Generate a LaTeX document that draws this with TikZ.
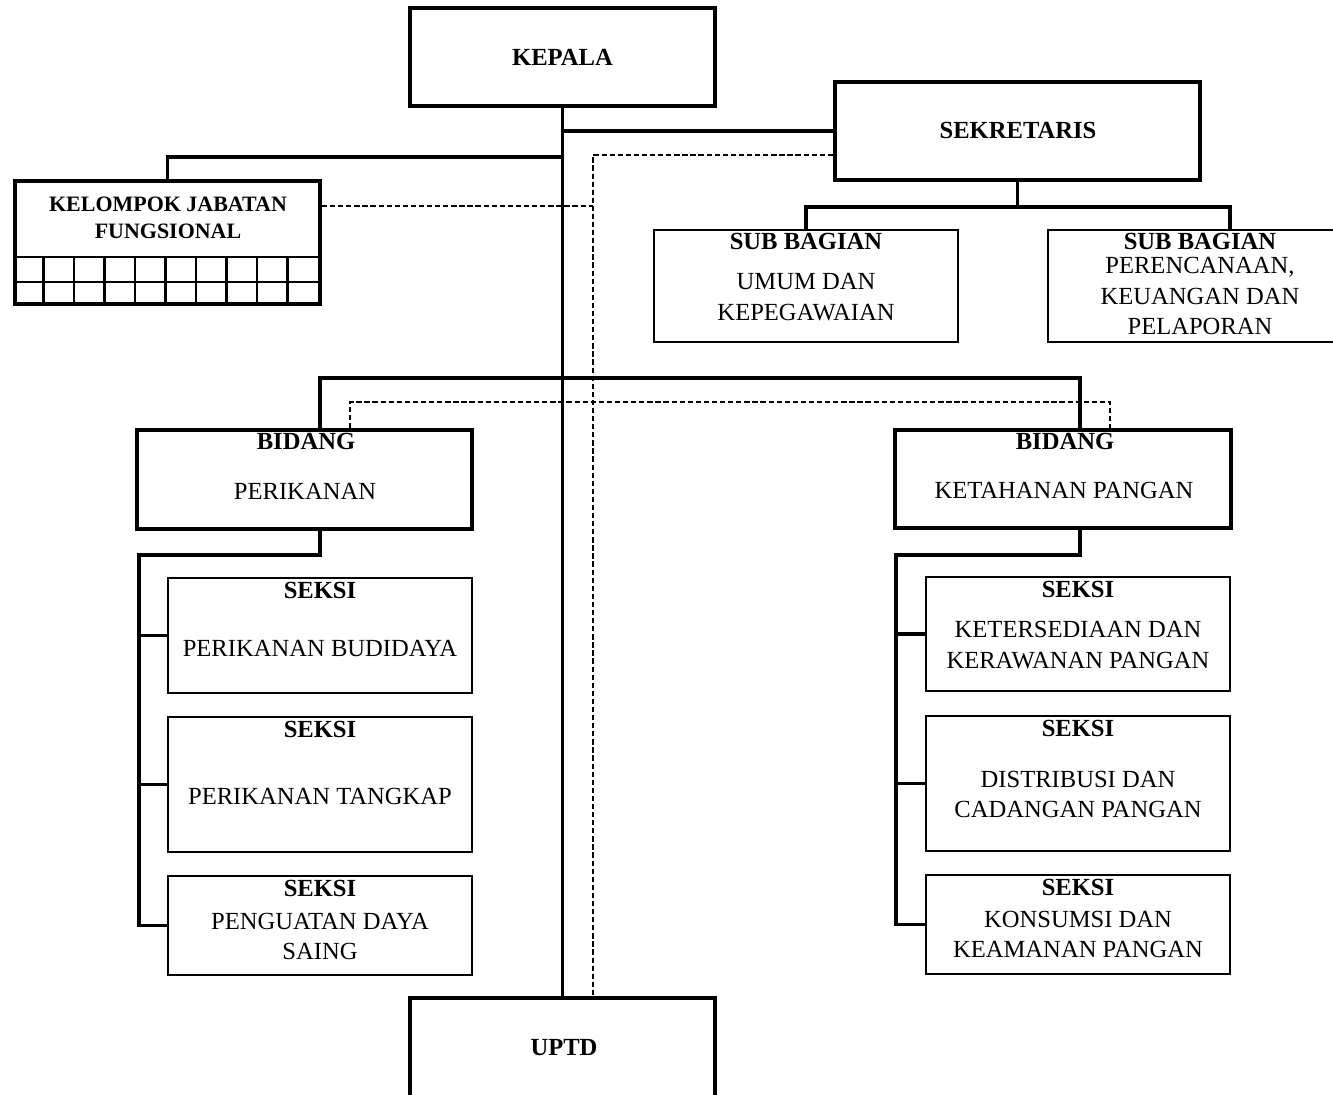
\documentclass[tikz,border=0pt]{standalone}
\usepackage{fontspec}
\setmainfont{Liberation Serif}
\usetikzlibrary{calc}
\newcommand{\pikx}{0.02cm}
\begin{document}
\begin{tikzpicture}[
        x=0.02cm, y=-0.02cm,
        tebal/.style={rectangle, draw, line width=2.2pt, inner sep=0pt},
        tipis/.style={rectangle, draw, line width=1.1pt, inner sep=0pt},
        judul/.style={inner sep=0pt, font=\fontsize{14}{17}\bfseries\selectfont},
        isi/.style={inner sep=0pt, align=center, font=\fontsize{14}{17.6}\selectfont},
        garis/.style={line width=2.2pt},
        putus/.style={line width=0.9pt, dashed, dash pattern=on 3pt off 1.6pt}
    ]
        \useasboundingbox (0,0) rectangle (1333,1095);
        \clip (0,0) rectangle (1333,1095);

        \node[tebal, minimum width=305*\pikx, minimum height=98*\pikx] (kepala) at (562.5,57) {};
        \node[tebal, minimum width=365*\pikx, minimum height=98*\pikx] (sekretaris) at (1017.5,131) {};
        \node[tebal, minimum width=305*\pikx, minimum height=123*\pikx] (kelompok) at (167.5,242.5) {};
        \node[tipis, minimum width=304*\pikx, minimum height=112*\pikx] (subumum) at (806,286) {};
        \node[tipis, minimum width=364*\pikx, minimum height=112*\pikx] (subren) at (1230,286) {};
        \node[tebal, minimum width=335*\pikx, minimum height=99*\pikx] (bidp) at (304.5,479.5) {};
        \node[tebal, minimum width=336*\pikx, minimum height=98*\pikx] (bidk) at (1063,479) {};
        \node[tipis, minimum width=304*\pikx, minimum height=115*\pikx] (s1) at (320,635.5) {};
        \node[tipis, minimum width=304*\pikx, minimum height=135*\pikx] (s2) at (320,784.5) {};
        \node[tipis, minimum width=304*\pikx, minimum height=99*\pikx] (s3) at (320,925.5) {};
        \node[tipis, minimum width=304*\pikx, minimum height=114*\pikx] (r1) at (1078,634) {};
        \node[tipis, minimum width=304*\pikx, minimum height=135*\pikx] (r2) at (1078,783.5) {};
        \node[tipis, minimum width=304*\pikx, minimum height=99*\pikx] (r3) at (1078,924.5) {};
        \node[tebal, minimum width=305*\pikx, minimum height=150*\pikx] (uptd) at (562.5,1073) {};

        \foreach \i in {1,...,9}
            \draw[line width=1.3pt] ($(kelompok.south west)+(\i*30.5,0)$) -- ++(0,-49);
        \draw[line width=1.3pt] ($(kelompok.south west)+(0,-49)$) -- ($(kelompok.south east)+(0,-49)$);
        \draw[line width=1.3pt] ($(kelompok.south west)+(0,-24)$) -- ($(kelompok.south east)+(0,-24)$);

        \node[judul] (tkepala) at (562.5,57) {KEPALA};
        \node[judul] (tsekretaris) at (1018,130) {SEKRETARIS};
        \node[judul, align=center, font=\fontsize{12.5}{15.3}\bfseries\selectfont] (tkelompok) at (168,217.5) {KELOMPOK JABATAN\\FUNGSIONAL};
        \node[judul] (tsubumum) at (806,241) {SUB BAGIAN};
        \node[isi] (isubumum) at (806,297.5) {UMUM DAN\\KEPEGAWAIAN};
        \node[judul] (tsubren) at (1200,241) {SUB BAGIAN};
        \node[isi] (isubren) at (1200,296) {PERENCANAAN,\\KEUANGAN DAN\\PELAPORAN};
        \node[judul] (tbidp) at (306,441) {BIDANG};
        \node[isi] (ibidp) at (305,491) {PERIKANAN};
        \node[judul] (tbidk) at (1065,441) {BIDANG};
        \node[isi] (ibidk) at (1064,490) {KETAHANAN PANGAN};
        \node[judul] (ts1) at (320,590) {SEKSI};
        \node[isi] (is1) at (320,648) {PERIKANAN BUDIDAYA};
        \node[judul] (ts2) at (320,729) {SEKSI};
        \node[isi] (is2) at (320,796) {PERIKANAN TANGKAP};
        \node[judul] (ts3) at (320,888) {SEKSI};
        \node[isi] (is3) at (320,936.5) {PENGUATAN DAYA\\SAING};
        \node[judul] (tr1) at (1078,589) {SEKSI};
        \node[isi] (ir1) at (1078,645.5) {KETERSEDIAAN DAN\\KERAWANAN PANGAN};
        \node[judul] (tr2) at (1078,728) {SEKSI};
        \node[isi] (ir2) at (1078,794.5) {DISTRIBUSI DAN\\CADANGAN PANGAN};
        \node[judul] (tr3) at (1078,887) {SEKSI};
        \node[isi] (ir3) at (1078,934.5) {KONSUMSI DAN\\KEAMANAN PANGAN};
        \node[judul] (tuptd) at (564,1048) {UPTD};

        \coordinate (garisputus) at (593,206);

        \draw[garis] (kepala.south) -- (uptd.north);
        \draw[garis] (kepala.south |- sekretaris.west) -- (sekretaris.west);
        \draw[garis] ($(kepala.south)+(0,49)$) -| (kelompok.north);
        \draw[garis] (sekretaris.south) -- ++(0,25) -| (subumum.north);
        \draw[garis] (sekretaris.south) -- ++(0,25) -| (subren.north);
        \draw[garis] ($(bidp.north)+(15.5,0)$) |- ($(bidk.north)+(17,-50)$) -- ($(bidk.north)+(17,0)$);
        \draw[garis] ($(bidp.south)+(15.5,0)$) -- ++(0,24) -| ($(s3.west)+(-28,0)$) -- (s3.west);
        \draw[garis] (s1.west) -- ++(-28,0);
        \draw[garis] (s2.west) -- ++(-28,0);
        \draw[garis] ($(bidk.south)+(17,0)$) -- ++(0,25) -| ($(r3.west)+(-29,0)$) -- (r3.west);
        \draw[garis] (r1.west) -- ++(-29,0);
        \draw[garis] (r2.west) -- ++(-29,0);

        \draw[putus] ($(sekretaris.west)+(0,24)$) -| ($(uptd.north)+(30.5,0)$);
        \draw[putus] ($(kelompok.east)+(0,-36.5)$) -- (garisputus);
        \draw[putus] ($(bidp.north)+(45.5,0)$) |- ($(bidk.north)+(47,-26)$) -- ($(bidk.north)+(47,0)$);
    \end{tikzpicture}
\end{document}
